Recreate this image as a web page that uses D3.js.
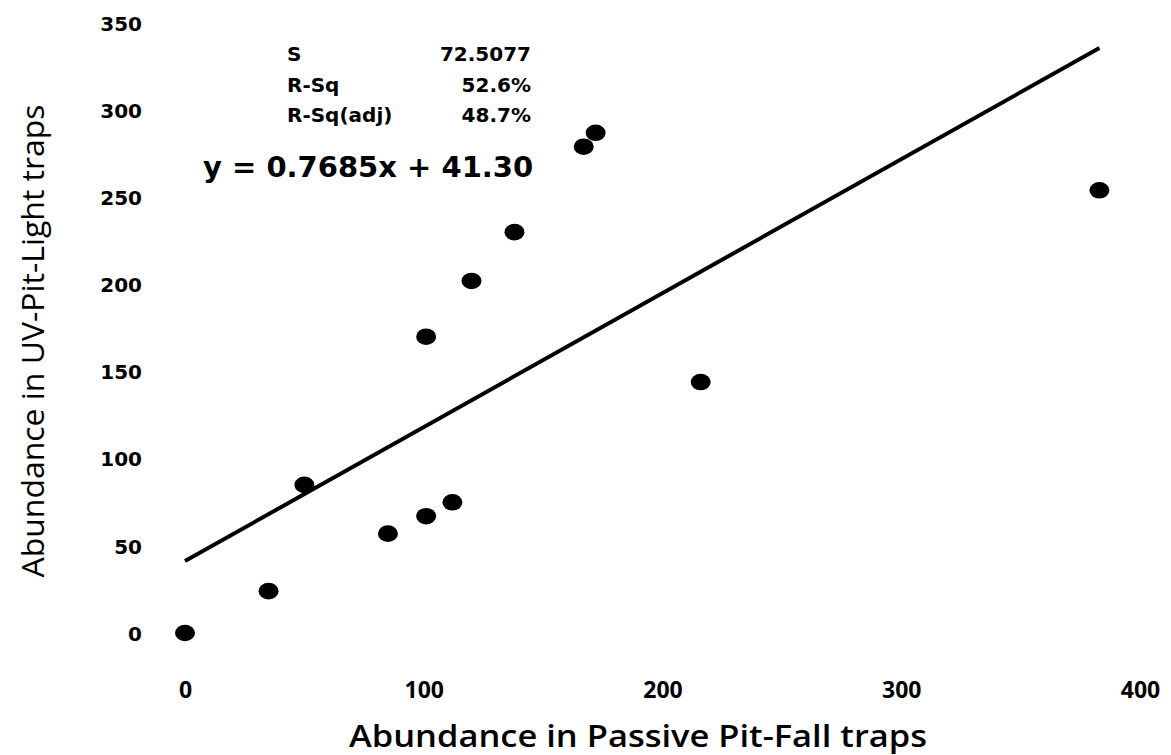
<!DOCTYPE html>
<html><head><meta charset="utf-8">
<script src="https://cdn.jsdelivr.net/npm/d3@7"></script>
<style>html,body{margin:0;padding:0;background:#fff}</style>
</head><body>
<svg id="chart" width="1171" height="755"></svg>
<script>
// Data
const passive = [0, 35, 50, 85, 101, 112, 101, 120, 138, 167, 172, 216, 383];
const uvLight = [0, 24, 85, 57, 67, 75, 170, 202, 230, 279, 287, 144, 254];
const xTicks = [0, 100, 200, 300, 400];
const yTicks = [0, 50, 100, 150, 200, 250, 300, 350];
const fitSlope = 0.7685, fitIntercept = 41.30;
const statLabels = ["S", "R-Sq", "R-Sq(adj)"];
const statValues = ["72.5077", "52.6%", "48.7%"];
const equationText = "y = 0.7685x + 41.30";
const xTitle = "Abundance in Passive Pit-Fall traps";
const yTitle = "Abundance in UV-Pit-Light traps";

const svg = d3.select("#chart");
const x = d3.scaleLinear().domain([0, 400]).range([185, 1140]);
const y = d3.scaleLinear().domain([0, 350]).range([633, 23]);

// X tick labels (no axis line)
const xAxis = svg.append("g").attr("transform", "translate(0,690)")
  .call(d3.axisBottom(x).tickValues(xTicks).tickSize(0).tickPadding(0));
xAxis.select(".domain").remove();
xAxis.selectAll("text").attr("dy", "0.36em")
  .style("font-family", "'Open Sans', sans-serif").style("font-weight", 700)
  .style("font-size", "23px").attr("fill", "#000");

// Y tick labels
const yAxis = svg.append("g").attr("transform", "translate(142,0)")
  .call(d3.axisLeft(y).tickValues(yTicks).tickSize(0).tickPadding(0));
yAxis.select(".domain").remove();
yAxis.selectAll("text").attr("dy", "0.36em")
  .style("font-family", "'DejaVu Sans', sans-serif").style("font-weight", "bold")
  .style("font-size", "20px").attr("fill", "#000");

// Regression line
const xMax = d3.max(passive);
svg.append("line")
  .attr("x1", x(0)).attr("y1", y(fitIntercept))
  .attr("x2", x(xMax)).attr("y2", y(fitIntercept + fitSlope * xMax))
  .attr("stroke", "#000").attr("stroke-width", 4);

// Points
svg.append("g").selectAll("ellipse").data(passive).join("ellipse")
  .attr("cx", (d) => x(d)).attr("cy", (d, i) => y(uvLight[i]))
  .attr("rx", 10).attr("ry", 8.3).attr("fill", "#000");

// Stats block
const stats = svg.append("g")
  .style("font-family", "'DejaVu Sans', sans-serif").style("font-size", "20px")
  .style("font-weight", "bold");
statLabels.forEach((s, i) => {
  stats.append("text").attr("x", 287).attr("y", 61 + i * 30.5).text(s);
  stats.append("text").attr("x", 531).attr("y", 61 + i * 30.5)
    .attr("text-anchor", "end").text(statValues[i]);
});

// Equation
svg.append("text").attr("x", 203).attr("y", 177)
  .style("font-family", "'DejaVu Sans', sans-serif").style("font-size", "29px")
  .style("font-weight", "bold").text(equationText);

// Axis titles
svg.append("text").attr("x", 638).attr("y", 747).attr("text-anchor", "middle")
  .attr("textLength", 578).attr("lengthAdjust", "spacingAndGlyphs")
  .style("font-family", "'Open Sans', sans-serif").style("font-weight", 600)
  .style("font-size", "31px").text(xTitle);

svg.append("text").attr("transform", "translate(44,341) rotate(-90)")
  .attr("text-anchor", "middle")
  .attr("textLength", 473).attr("lengthAdjust", "spacingAndGlyphs")
  .style("font-family", "'Open Sans', sans-serif").style("font-weight", 500)
  .style("font-size", "31px").text(yTitle);
</script>
</body></html>
